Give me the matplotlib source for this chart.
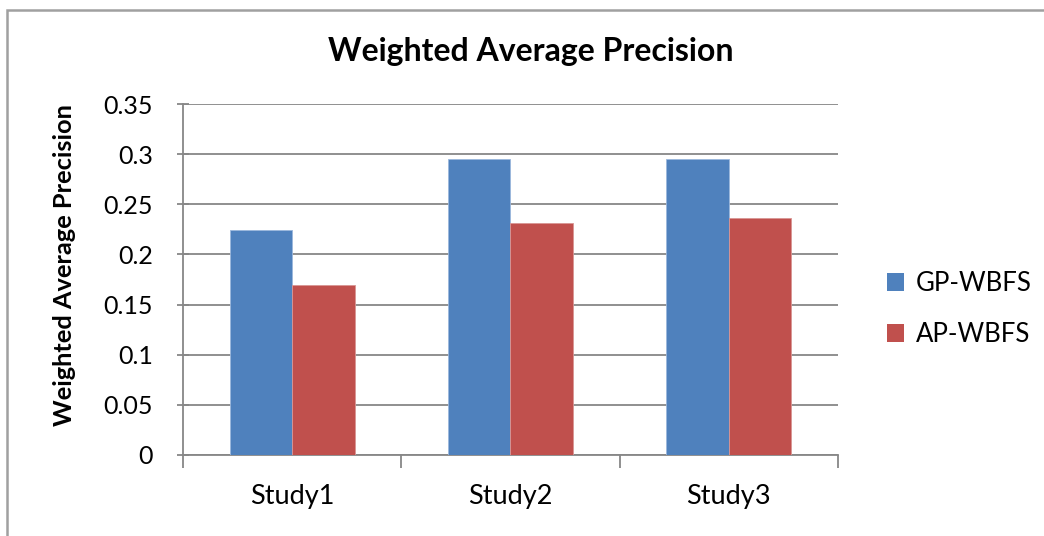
import matplotlib
matplotlib.use("Agg")
import matplotlib.pyplot as plt
from matplotlib.patches import Rectangle
import numpy as np

plt.rcParams['font.family'] = ['Lato', 'DejaVu Sans']

categories = ["Study1", "Study2", "Study3"]
series_names = ["GP-WBFS", "AP-WBFS"]
gp_wbfs = [0.224, 0.295, 0.295]
ap_wbfs = [0.170, 0.231, 0.236]
y_ticks = [0, 0.05, 0.1, 0.15, 0.2, 0.25, 0.3, 0.35]
y_tick_labels = ["0", "0.05", "0.1", "0.15", "0.2", "0.25", "0.3", "0.35"]

blue = "#4f81bd"
red = "#c0504d"
grid_gray = "#878787"

W, H = 1044, 536
fig = plt.figure(figsize=(W / 100, H / 100), dpi=100)
ax = fig.add_axes([183 / W, 1 - 455 / H, 655 / W, 351 / H])

x = np.arange(len(categories))
width = 1 / 3.5
b1 = ax.bar(x - width / 2, gp_wbfs, width, color=blue, edgecolor="#9bb7dc", linewidth=0.6,
            label=series_names[0], zorder=3)
b2 = ax.bar(x + width / 2, ap_wbfs, width, color=red, edgecolor="#d99694", linewidth=0.6,
            label=series_names[1], zorder=3)

ax.set_xlim(-0.5, len(categories) - 0.5)
ax.set_ylim(0, 0.35)
ax.set_yticks(y_ticks)
ax.set_yticklabels(y_tick_labels, fontsize=18)
ax.yaxis.grid(True, color=grid_gray, linewidth=1.3, zorder=0)
ax.set_axisbelow(True)

# tick marks sit on the category boundaries, labels at the centres
ax.set_xticks(np.arange(len(categories) + 1) - 0.5)
ax.set_xticklabels([])
ax.set_xticks(x, minor=True)
ax.set_xticklabels(categories, minor=True, fontsize=19.5)
ax.tick_params(axis="x", which="minor", length=0, pad=21)
ax.tick_params(axis="x", which="major", direction="out", length=9, color=grid_gray, width=1.3)
ax.tick_params(axis="y", direction="inout", length=9, color=grid_gray, width=1.3, pad=17)

for side in ["top", "right"]:
    ax.spines[side].set_visible(False)
for side in ["left", "bottom"]:
    ax.spines[side].set_color(grid_gray)
    ax.spines[side].set_linewidth(1.3)

fig.text(65 / W, 1 - 265 / H, "Weighted Average Precision", rotation=90, ha="center", va="center",
         fontsize=18.3, fontweight="bold")

fig.text(531 / W, 1 - 52 / H, "Weighted Average Precision", ha="center", va="center",
         fontsize=23, fontweight="bold")

leg = fig.legend(handles=[b1, b2], labels=series_names, loc="center left",
                 bbox_to_anchor=(887 / W, 1 - 309 / H), frameon=False, borderpad=0,
                 borderaxespad=0, fontsize=18.5, handlelength=0.68, handleheight=0.68,
                 handletextpad=0.45, labelspacing=1.0)
for h in leg.legend_handles:
    h.set_edgecolor("none")

# chart area border
fig.patches.append(Rectangle((7 / W, -0.1), 1.2, 1 - 10 / H + 0.1, transform=fig.transFigure,
                             fill=False, edgecolor="#a0a0a0", linewidth=1.8))

fig.savefig("out.png", dpi=100)
